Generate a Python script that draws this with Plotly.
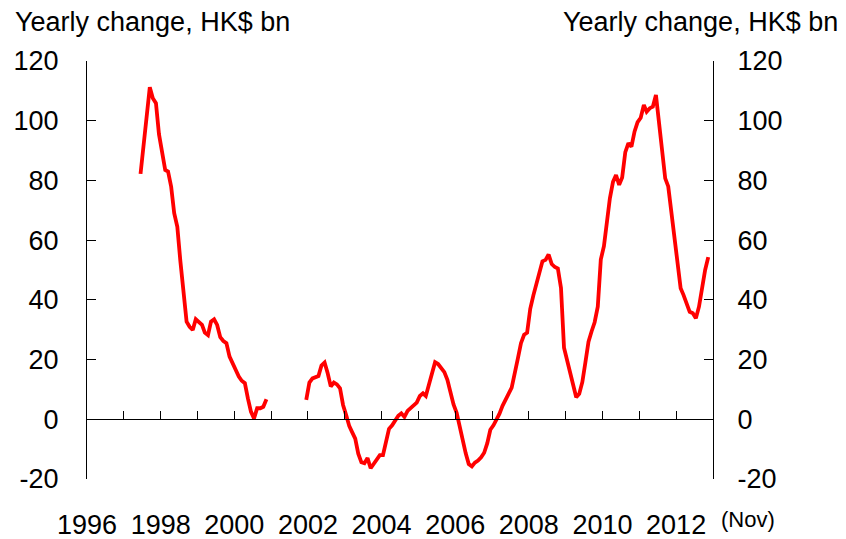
import pandas as pd
import plotly.graph_objects as go

# ---- data (yearly change, HK$ bn), monthly ----
seg1_start = "1997-06-01"
seg1_values = [
    82.2, 92.5, 103.6, 111.2, 107.5, 105.9, 95.5,                       # 1997 Jun-Dec
    89.5, 83.5, 83.0, 77.9, 69.0, 64.5, 53.0, 42.0, 32.7, 31.0, 29.9, 33.5,  # 1998
    32.7, 31.6, 29.0, 28.2, 32.7, 33.5, 31.6, 27.5, 26.2, 25.5, 21.0, 18.8,  # 1999
    16.5, 14.3, 12.9, 12.1, 7.0, 2.5, 0.3, 3.7, 3.7, 4.2, 6.7,               # 2000 Jan-Nov
]
seg2_start = "2001-12-01"
seg2_values = [
    6.5,                                                                     # 2001 Dec
    12.3, 13.7, 14.0, 14.5, 18.0, 19.0, 15.5, 11.0, 12.3, 11.7, 10.4, 4.8,   # 2002
    1.4, -2.3, -4.3, -6.5, -11.5, -14.4, -14.7, -13.0, -16.4, -14.8, -13.2, -12.0,  # 2003
    -12.0, -7.5, -3.2, -2.0, -0.2, 1.2, 2.0, 0.8, 2.8, 3.7, 4.6, 5.6,        # 2004
    7.8, 8.7, 7.8, 11.8, 16.0, 19.1, 18.5, 17.3, 15.8, 13.2, 8.5, 5.0,       # 2005
    2.2, -2.7, -7.0, -11.4, -15.0, -15.8, -14.5, -13.8, -12.7, -11.2, -8.0, -3.5,  # 2006
    -2.0, -0.2, 1.8, 4.5, 6.8, 8.6, 10.6, 15.0, 20.5, 25.5, 28.3, 29.0,      # 2007
    37.0, 41.5, 45.0, 49.5, 52.9, 53.4, 55.2, 52.0, 51.0, 50.5, 44.0, 24.0,  # 2008
    19.5, 15.5, 11.0, 7.4, 8.5, 12.5, 19.0, 26.0, 29.5, 32.5, 37.7, 53.5,    # 2009
    58.0, 66.8, 74.0, 79.5, 81.8, 78.5, 81.0, 89.5, 92.5, 91.3, 96.4, 99.5,  # 2010
    101.0, 105.3, 103.0, 104.2, 104.7, 108.6, 100.0, 91.0, 80.7, 78.0, 69.0, 61.0,  # 2011
    53.4, 43.9, 41.6, 38.9, 36.0, 35.5, 33.8, 37.7, 44.4, 50.0, 54.3,        # 2012 Jan-Nov
]
year_labels = ["1996", "1998", "2000", "2002", "2004", "2006", "2008", "2010", "2012"]
y_ticks = [-20, 0, 20, 40, 60, 80, 100, 120]
y_tick_labels = ["-20", "0", "20", "40", "60", "80", "100", "120"]
y_title = "Yearly change, HK$ bn"
end_note = "(Nov)"

# ---- build series (mid-month dates, gap between segments) ----
d1 = pd.date_range(seg1_start, periods=len(seg1_values), freq="MS") + pd.Timedelta(days=14)
d2 = pd.date_range(seg2_start, periods=len(seg2_values), freq="MS") + pd.Timedelta(days=14)
x = list(d1) + [d1[-1] + pd.Timedelta(days=30)] + list(d2)
y = list(seg1_values) + [None] + list(seg2_values)

FONT = "Liberation Sans, Arial, sans-serif"
FS = 27
xr = ["1996-01-01", "2013-01-01"]
yr = [-20, 120]

fig = go.Figure()
fig.add_trace(go.Scatter(x=x, y=y, mode="lines",
                         line=dict(color="#FF0000", width=3.8),
                         connectgaps=False, showlegend=False))
# invisible helpers so that secondary axes render
fig.add_trace(go.Scatter(x=[None], y=[None], xaxis="x", yaxis="y2", showlegend=False, hoverinfo="skip"))
fig.add_trace(go.Scatter(x=[None], y=[None], xaxis="x2", yaxis="y", showlegend=False, hoverinfo="skip"))

yaxis_common = dict(range=yr, tickmode="array", tickvals=y_ticks, ticktext=y_tick_labels,
                    ticks="inside", ticklen=9, tickcolor="black", showline=True,
                    linecolor="black", linewidth=1, showgrid=False, zeroline=False,
                    tickfont=dict(size=FS), automargin=False)

# page body has an 8px margin: figure is sized/offset to compensate
PW, PH = 838, 531
ML, MR, MT, MB = 79, 133, 53, 60
plot_w = PW - ML - MR
plot_h = PH - MT - MB
X0, Y1 = 8 + ML, 8 + MT + plot_h   # screen px of plot left / bottom


def px_x(p):
    return (p - X0) / plot_w


def px_y(p):
    return (Y1 - p) / plot_h


fig.update_layout(
    width=PW, height=PH,
    margin=dict(l=ML, r=MR, t=MT, b=MB),
    paper_bgcolor="white", plot_bgcolor="white",
    font=dict(family=FONT, size=FS, color="black"),
    showlegend=False,
    xaxis=dict(type="date", range=xr, tickmode="array",
               tickvals=[f"{v}-01-01" for v in year_labels], ticktext=year_labels,
               showline=False, ticks="", showgrid=False, zeroline=False,
               tickfont=dict(size=FS), ticklabelstandoff=27, automargin=False),
    xaxis2=dict(type="date", range=xr, overlaying="x", anchor="free", position=20 / 140,
                side="bottom", tick0="1996-01-01", dtick="M12", ticks="inside", ticklen=8,
                tickcolor="black", tickwidth=1, showline=True, linecolor="black", linewidth=1,
                showticklabels=False, showgrid=False, zeroline=False, automargin=False),
    yaxis=dict(**yaxis_common, ticklabelstandoff=22),
    yaxis2=dict(**yaxis_common, overlaying="y", side="right", anchor="x", ticklabelstandoff=18),
    annotations=[
        dict(text=y_title, xref="paper", yref="paper", x=px_x(13), y=px_y(22),
             xanchor="left", yanchor="middle", showarrow=False, font=dict(size=FS)),
        dict(text=y_title, xref="paper", yref="paper", x=px_x(840), y=px_y(22),
             xanchor="right", yanchor="middle", showarrow=False, font=dict(size=FS)),
        dict(text=end_note, xref="paper", yref="paper", x=px_x(748), y=px_y(519),
             xanchor="center", yanchor="middle", showarrow=False, font=dict(size=22)),
    ],
)

fig.write_html("out.html")
